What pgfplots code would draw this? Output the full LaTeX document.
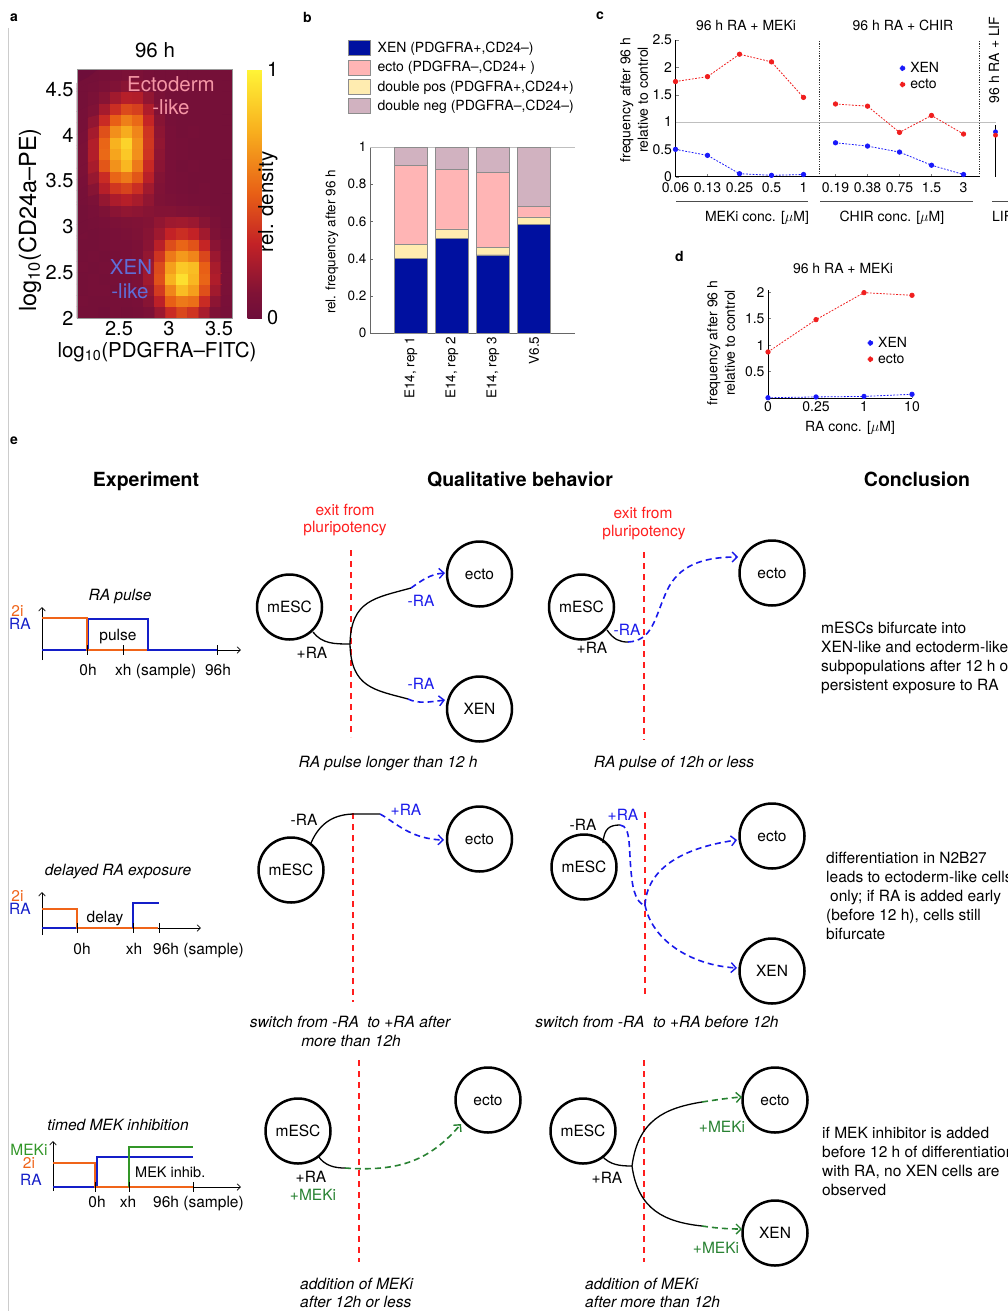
\documentclass[border=0pt]{standalone}
\usepackage{fontspec}
\setmainfont{TeX Gyre Heros}
\usepackage{pgfplots}
\pgfplotsset{compat=1.18}
\usepackage{pgfplotstable}
\usetikzlibrary{arrows.meta}
\newcommand\fs[2]{\fontsize{#1}{#2}\selectfont}
\pgfplotsset{/pgf/number format/assume math mode=true}

\definecolor{xenbar}{RGB}{0,16,160}
\definecolor{ectobar}{RGB}{255,181,181}
\definecolor{dpbar}{RGB}{255,236,176}
\definecolor{dnbar}{RGB}{209,178,192}
\definecolor{xenpt}{RGB}{25,25,250}
\definecolor{ectopt}{RGB}{240,30,30}
\definecolor{exitred}{RGB}{255,30,30}
\definecolor{rablue}{RGB}{25,25,235}
\definecolor{tlorange}{RGB}{240,100,25}
\definecolor{tlblue}{RGB}{20,30,200}
\definecolor{tlgreen}{RGB}{50,150,40}
\definecolor{mekgreen}{RGB}{40,130,50}
\definecolor{ectotxt}{RGB}{245,150,165}
\definecolor{xentxt}{RGB}{95,110,215}
\definecolor{heatbg}{RGB}{110,14,58}

% panel a: density grid, 14 columns (x) per row, rows from bottom (y=2) to top
\pgfplotstableread[row sep=\\]{
c\\
0.04\\0.04\\0.03\\0.05\\0.04\\0.05\\0.08\\0.18\\0.33\\0.42\\0.36\\0.22\\0.09\\0.05\\
0.05\\0.04\\0.04\\0.05\\0.05\\0.06\\0.12\\0.28\\0.50\\0.58\\0.55\\0.33\\0.14\\0.06\\
0.04\\0.05\\0.05\\0.04\\0.05\\0.07\\0.16\\0.38\\0.62\\0.80\\0.70\\0.45\\0.20\\0.07\\
0.04\\0.05\\0.04\\0.05\\0.06\\0.08\\0.20\\0.45\\0.76\\0.92\\0.78\\0.52\\0.24\\0.08\\
0.05\\0.04\\0.05\\0.05\\0.06\\0.08\\0.19\\0.43\\0.70\\0.84\\0.80\\0.50\\0.22\\0.08\\
0.04\\0.05\\0.04\\0.05\\0.06\\0.08\\0.16\\0.36\\0.58\\0.68\\0.62\\0.42\\0.18\\0.07\\
0.04\\0.04\\0.05\\0.06\\0.06\\0.08\\0.13\\0.27\\0.44\\0.52\\0.46\\0.31\\0.13\\0.06\\
0.05\\0.04\\0.05\\0.06\\0.07\\0.09\\0.12\\0.19\\0.30\\0.34\\0.30\\0.20\\0.09\\0.05\\
0.04\\0.05\\0.06\\0.08\\0.09\\0.10\\0.11\\0.15\\0.19\\0.20\\0.18\\0.12\\0.07\\0.04\\
0.04\\0.06\\0.09\\0.13\\0.15\\0.14\\0.12\\0.11\\0.11\\0.10\\0.09\\0.07\\0.05\\0.04\\
0.05\\0.08\\0.16\\0.23\\0.26\\0.22\\0.15\\0.09\\0.07\\0.06\\0.05\\0.05\\0.04\\0.04\\
0.05\\0.12\\0.26\\0.37\\0.41\\0.34\\0.20\\0.10\\0.06\\0.05\\0.04\\0.05\\0.04\\0.04\\
0.06\\0.17\\0.33\\0.52\\0.58\\0.47\\0.27\\0.11\\0.06\\0.05\\0.04\\0.04\\0.04\\0.04\\
0.07\\0.22\\0.47\\0.66\\0.78\\0.58\\0.32\\0.13\\0.06\\0.04\\0.05\\0.04\\0.04\\0.04\\
0.07\\0.25\\0.53\\0.72\\0.84\\0.65\\0.36\\0.14\\0.06\\0.05\\0.04\\0.04\\0.04\\0.04\\
0.07\\0.25\\0.52\\0.76\\0.88\\0.66\\0.37\\0.15\\0.06\\0.05\\0.04\\0.04\\0.04\\0.04\\
0.06\\0.21\\0.45\\0.65\\0.74\\0.62\\0.36\\0.14\\0.06\\0.04\\0.05\\0.04\\0.04\\0.04\\
0.05\\0.15\\0.33\\0.50\\0.60\\0.53\\0.31\\0.12\\0.05\\0.04\\0.04\\0.04\\0.04\\0.04\\
0.05\\0.10\\0.21\\0.34\\0.43\\0.40\\0.24\\0.10\\0.05\\0.04\\0.04\\0.04\\0.04\\0.04\\
0.04\\0.07\\0.12\\0.20\\0.26\\0.25\\0.15\\0.07\\0.04\\0.04\\0.04\\0.04\\0.04\\0.04\\
0.04\\0.05\\0.07\\0.10\\0.13\\0.13\\0.08\\0.05\\0.04\\0.04\\0.04\\0.04\\0.04\\0.04\\
0.04\\0.04\\0.05\\0.06\\0.07\\0.07\\0.05\\0.04\\0.04\\0.04\\0.04\\0.04\\0.04\\0.04\\
}\heat

\pgfplotstableread{
x xen dp ecto dn
0 0.40 0.075 0.425 0.10
1 0.51 0.05 0.32 0.12
2 0.42 0.04 0.405 0.135
3 0.585 0.04 0.055 0.32
}\fracs

\pgfplotstableread{
x xen ecto
0 0.50 1.74
1 0.39 1.83
2 0.055 2.24
3 0.025 2.10
4 0.04 1.45
}\cmek
\pgfplotstableread{
x xen ecto
5 0.62 1.33
6 0.56 1.29
7 0.45 0.81
8 0.21 1.12
9 0.04 0.78
}\cchir
\pgfplotstableread{
x xen ecto
10 0.82 0.76
}\clif
\pgfplotstableread{
x xen ecto
0 0.005 0.87
1 0.02 1.48
2 0.03 1.99
3 0.07 1.94
}\dra

\begin{document}
\begin{tikzpicture}
\useasboundingbox (0,0) rectangle (1007pt,-1311pt);
\fill[white] (0,0) rectangle (1007pt,-1311pt);

% ---------------- panel a
\begin{axis}[at={(77pt,-318pt)}, anchor=south west, scale only axis,
  width=155pt, height=249pt,
  xmin=2.08, xmax=3.63, ymin=2, ymax=4.72, enlargelimits=false,
  xtick={2.5,3,3.5}, ytick={2,2.5,3,3.5,4,4.5}, major tick length=0pt,
  ticklabel style={font=\fs{20}{24}},
  axis background/.style={fill=heatbg},
  axis line style={draw=black!40, line width=0.4pt},
  colormap={heat}{rgb255(0cm)=(110,14,58) rgb255(1cm)=(128,18,54) rgb255(3cm)=(195,34,38) rgb255(5cm)=(232,95,22) rgb255(7.5cm)=(248,175,30) rgb255(10cm)=(255,245,55)},
  point meta min=0, point meta max=1,
  colorbar,
  colorbar style={at={(parent axis.north east)}, anchor=north west, xshift=7pt,
    width=16pt, ytick={0,1}, major tick length=0pt,
    yticklabel style={font=\fs{20}{24}}, axis line style={draw=none}},
  axis on top]
\addplot[matrix plot*, mesh/cols=14, point meta=explicit]
  table[x index=0, y index=0, meta index=0,
        x expr={2.08+0.110714*(mod(\coordindex,14)+0.5)},
        y expr={2+0.123636*(floor(\coordindex/14)+0.5)}] {\heat};
\end{axis}

% ---------------- panel b
\begin{axis}[at={(370pt,-333pt)}, anchor=south west, scale only axis,
  width=205pt, height=186pt,
  xmin=-1, xmax=4, ymin=0, ymax=1, ybar stacked, bar width=33pt,
  axis x line*=bottom, axis y line*=left,
  axis line style={-, line width=0.5pt, draw=black!60},
  xtick={0,1,2,3}, xticklabels={{E14, rep 1},{E14, rep 2},{E14, rep 3},{V6.5}},
  x tick label style={rotate=90, anchor=east, font=\fs{13.5}{16}},
  xtick style={draw=none},
  ytick={0,0.2,0.4,0.6,0.8,1}, y tick label style={font=\fs{13.5}{16}},
  tick align=inside, major tick length=3pt, ytick style={draw=black!60},
  legend entries={{XEN (PDGFRA+,CD24--)},{ecto (PDGFRA--,CD24+ )},{double pos (PDGFRA+,CD24+)},{double neg (PDGFRA--,CD24--)}},
  legend cell align=left,
  legend style={at={(-0.107,1.575)}, anchor=north west, draw=none, fill=none,
    font=\fs{14}{17}, inner sep=0pt, row sep=4pt,
    nodes={inner sep=1pt, anchor=west},
    /tikz/every odd column/.append style={column sep=6pt}},
  legend image code/.code={\draw[#1, draw=black!45, line width=0.4pt] (0pt,-7.5pt) rectangle (22pt,7.5pt);}]
\addlegendimage{fill=xenbar}
\addlegendimage{fill=ectobar}
\addlegendimage{fill=dpbar}
\addlegendimage{fill=dnbar}
\addplot[fill=xenbar, draw=black!45, line width=0.4pt] table[x=x,y=xen]{\fracs};
\addplot[fill=dpbar, draw=black!45, line width=0.4pt] table[x=x,y=dp]{\fracs};
\addplot[fill=ectobar, draw=black!45, line width=0.4pt] table[x=x,y=ecto]{\fracs};
\addplot[fill=dnbar, draw=black!45, line width=0.4pt] table[x=x,y=dn]{\fracs};
\draw[black!25, line width=0.6pt] (axis cs:-1,1) -- (axis cs:4,1);
\end{axis}

% ---------------- panel c
\begin{axis}[at={(675.5pt,-176.7pt)}, anchor=south west, scale only axis,
  width=320pt, height=136.7pt,
  xmin=0, xmax=10, ymin=0, ymax=2.5, clip=false,
  axis x line*=bottom, axis y line*=left, axis line style={-},
  x axis line style={draw=none},
  xtick={0,1,2,3,4,5,6,7,8,9},
  xticklabels={0.06,0.13,0.25,0.5,1,0.19,0.38,0.75,1.5,3},
  x tick label style={yshift=-2pt},
  ytick={0,0.5,1,1.5,2,2.5},
  tick align=inside, major tick length=3pt,
  ticklabel style={font=\fs{14}{17}},
  legend style={at={(0.70,0.845)}, anchor=north west, draw=none, fill=none,
    font=\fs{14}{17}, inner sep=0pt, row sep=3pt,
    nodes={inner sep=1pt, anchor=west},
    /tikz/every odd column/.append style={column sep=4pt}},
  legend image code/.code={\fill[#1] (2.4pt,0pt) circle (2.4pt);}]
\draw[black!25, line width=0.6pt] (axis cs:0,1) -- (axis cs:10,1);
\draw[black!80, dash pattern=on 1.2pt off 1.2pt, line width=0.8pt] (axis cs:4.5,0) -- (axis cs:4.5,2.5);
\draw[black!80, dash pattern=on 1.2pt off 1.2pt, line width=0.8pt] (axis cs:9.5,0) -- (axis cs:9.5,2.5);
\draw[black, line width=0.6pt] (axis cs:0,0) -- (axis cs:9.5,0);
\draw[black, line width=0.6pt] (axis cs:10,0) -- (axis cs:10,0.95);
\addplot[xenpt, mark=*, mark size=2.2pt, line width=0.8pt, dash pattern=on 1.8pt off 1.5pt, mark options={solid}] table[x=x,y=xen]{\cmek};
\addlegendentry{XEN}
\addplot[ectopt, mark=*, mark size=2.2pt, line width=0.8pt, dash pattern=on 1.8pt off 1.5pt, mark options={solid}] table[x=x,y=ecto]{\cmek};
\addlegendentry{ecto}
\addplot[forget plot, xenpt, mark=*, mark size=2.2pt, line width=0.8pt, dash pattern=on 1.8pt off 1.5pt, mark options={solid}] table[x=x,y=xen]{\cchir};
\addplot[forget plot, ectopt, mark=*, mark size=2.2pt, line width=0.8pt, dash pattern=on 1.8pt off 1.5pt, mark options={solid}] table[x=x,y=ecto]{\cchir};
\addplot[forget plot, only marks, xenpt, mark=*, mark size=2.2pt] table[x=x,y=xen]{\clif};
\addplot[forget plot, only marks, ectopt, mark=*, mark size=2.2pt] table[x=x,y=ecto]{\clif};
\end{axis}

% ---------------- panel d
\begin{axis}[at={(768pt,-398pt)}, anchor=south west, scale only axis,
  width=144pt, height=108pt,
  xmin=0, xmax=3, ymin=0, ymax=2.04, clip=false,
  axis x line*=bottom, axis y line*=left, axis line style={-, line width=0.6pt},
  xtick={0,1,2,3}, xticklabels={0,0.25,1,10},
  ytick={0.5,1,1.5,2},
  tick align=inside, major tick length=3pt,
  ticklabel style={font=\fs{14}{17}},
  legend style={at={(0.69,0.575)}, anchor=north west, draw=none, fill=none,
    font=\fs{14}{17}, inner sep=0pt, row sep=3pt,
    nodes={inner sep=1pt, anchor=west},
    /tikz/every odd column/.append style={column sep=4pt}},
  legend image code/.code={\fill[#1] (2.4pt,0pt) circle (2.4pt);}]
\addplot[xenpt, mark=*, mark size=2.2pt, line width=0.8pt, dash pattern=on 1.8pt off 1.5pt, mark options={solid}] table[x=x,y=xen]{\dra};
\addlegendentry{XEN}
\addplot[ectopt, mark=*, mark size=2.2pt, line width=0.8pt, dash pattern=on 1.8pt off 1.5pt, mark options={solid}] table[x=x,y=ecto]{\dra};
\addlegendentry{ecto}
\end{axis}

% ---------------- texts and diagram
\begin{scope}[x=1pt, y=-1pt, every node/.style={inner sep=0pt},
  t/.style={font=\fs{15.5}{19}}, ti/.style={font=\itshape\fs{15.5}{19}},
  circ/.style={line width=2.5pt},
  blk/.style={line width=1.3pt},
  bdash/.style={rablue, line width=1.6pt, dash pattern=on 6pt off 4pt, -{Straight Barb[length=5pt,width=10pt,line width=1.4pt]}},
  gdash/.style={mekgreen, line width=1.6pt, dash pattern=on 6pt off 4pt, -{Straight Barb[length=5pt,width=10pt,line width=1.4pt]}},
  redv/.style={exitred, line width=1.6pt, dash pattern=on 6pt off 5pt},
  ax/.style={line width=0.7pt, -{Straight Barb[length=3.5pt,width=6.5pt]}},
  tl/.style={line width=1.7pt}]

\draw[black!20, line width=0.8pt] (8.5,28) -- (8.5,1311);

% panel letters
\node[anchor=base west, font=\bfseries\fs{14}{17}] at (10,22) {a};
\node[anchor=base west, font=\bfseries\fs{14}{17}] at (303,23) {b};
\node[anchor=base west, font=\bfseries\fs{14}{17}] at (596,20) {c};
\node[anchor=base west, font=\bfseries\fs{14}{17}] at (675,261) {d};
\node[anchor=base west, font=\bfseries\fs{14}{17}] at (10,444) {e};

% panel a labels
\node[font=\fs{20.5}{24}, anchor=base] at (155,58) {96 h};
\node[font=\fs{23.5}{27}, rotate=90] at (30,220) {log\textsubscript{10}(CD24a--PE)};
\node[font=\fs{20.5}{24}] at (157,352) {log\textsubscript{10}(PDGFRA--FITC)};
\node[font=\fs{20.5}{24}, rotate=90] at (268,202) {rel. density};
\node[font=\fs{20.5}{24}, anchor=base, text=ectotxt] at (171,92) {Ectoderm};
\node[font=\fs{20.5}{24}, anchor=base, text=ectotxt] at (171,115) {-like};
\node[font=\fs{20.5}{24}, anchor=base, text=xentxt] at (131,274) {XEN};
\node[font=\fs{20.5}{24}, anchor=base, text=xentxt] at (130,298) {-like};

% panel b label
\node[font=\fs{13.5}{16}, rotate=90] at (332,242) {rel. frequency after 96 h};

% panel c labels
\node[font=\fs{14}{17}, anchor=base] at (746,31) {96 h RA + MEKi};
\node[font=\fs{14}{17}, anchor=base] at (903,31) {96 h RA + CHIR};
\node[font=\fs{14}{17}, rotate=90] at (994,60) {96 h RA + LIF};
\node[font=\fs{14}{17.5}, rotate=90, align=center] at (634,100) {frequency after 96 h\\relative to control};
\draw[black!70, line width=0.6pt] (676,201) -- (808,201);
\draw[black!70, line width=0.6pt] (820,201) -- (973,201);
\draw[black!70, line width=0.6pt] (992,201) -- (1010,201);
\node[font=\fs{14}{17}, anchor=base] at (757,221) {MEKi conc. [$\mu$M]};
\node[font=\fs{14}{17}, anchor=base] at (892,221) {CHIR conc. [$\mu$M]};
\node[font=\fs{14}{17}, anchor=base west] at (992,221) {LIF};

% panel d labels
\node[font=\fs{14}{17}, anchor=base] at (843,273) {96 h RA + MEKi};
\node[font=\fs{14}{17.5}, rotate=90, align=center] at (721,343) {frequency after 96 h\\relative to control};
\node[font=\fs{14}{17}, anchor=base] at (850,431) {RA conc. [$\mu$M]};

% panel e headers
\node[font=\bfseries\fs{19.5}{23}, anchor=base] at (146,486) {Experiment};
\node[font=\bfseries\fs{19.5}{23}, anchor=base] at (520,486) {Qualitative behavior};
\node[font=\bfseries\fs{19.5}{23}, anchor=base] at (917,486) {Conclusion};

% ===== row 1 timeline
\node[ti, anchor=base] at (120,600) {RA pulse};
\node[t, anchor=base, text=tlorange] at (17.5,616) {2i};
\node[t, anchor=base, text=tlblue] at (20,629) {RA};
\draw[ax] (42,660) -- (42,607);
\draw[ax] (42,650) -- (241,650);
\draw[tlblue, tl] (42,650) -- (88,650) -- (88,619) -- (148,619) -- (148,650) -- (217,650);
\draw[tlorange, tl] (42,618) -- (87,618) -- (87,650) -- (147,650);
\foreach \xx in {87,123,217} \draw[line width=0.7pt] (\xx,645) -- (\xx,655);
\node[t, anchor=base] at (118,640) {pulse};
\node[t, anchor=base] at (88,675) {0h};
\node[t, anchor=base west] at (115,675) {xh (sample)};
\node[t, anchor=base] at (218,675) {96h};

% ===== row 1 diagram 1
\node[t, anchor=base, text=exitred] at (345,515) {exit from};
\node[t, anchor=base, text=exitred] at (345,532) {pluripotency};
\draw[redv] (351,550) -- (351,737);
\draw[circ] (289.5,607) circle[radius=32.5pt];
\draw[circ] (479.5,574) circle[radius=32.5pt];
\draw[circ] (479.5,709) circle[radius=32.5pt];
\node[t] at (289.5,607) {mESC};
\node[t] at (479.5,574) {ecto};
\node[t] at (479.5,709) {XEN};
\draw[blk] (313,632) .. controls (322,644) and (335,644) .. (350,644);
\draw[blk] (350,644) .. controls (351,600) and (375,598) .. (411,588);
\draw[blk] (350,644) .. controls (351,688) and (375,690) .. (408,699);
\draw[bdash] (411,588) .. controls (421,581) and (430,574) .. (445,573);
\draw[bdash] (408,699) .. controls (418,704) and (430,702) .. (445,700);
\node[t, anchor=base] at (312,658) {+RA};
\node[t, anchor=base, text=rablue] at (421,606) {-RA};
\node[t, anchor=base, text=rablue] at (421,689) {-RA};
\node[ti, anchor=base] at (388,767) {RA pulse longer than 12 h};

% ===== row 1 diagram 2
\node[t, anchor=base, text=exitred] at (643,518) {exit from};
\node[t, anchor=base, text=exitred] at (644,536) {pluripotency};
\draw[redv] (644,552) -- (644,740);
\draw[circ] (581.5,607) circle[radius=32.5pt];
\draw[circ] (772,573) circle[radius=32.5pt];
\node[t] at (581.5,607) {mESC};
\node[t] at (772,573) {ecto};
\draw[blk] (607,630) .. controls (614,640) and (620,642) .. (628,642);
\draw[bdash] (628,642) .. controls (652,641) and (655,618) .. (665,595) .. controls (675,570) and (695,557) .. (738,557);
\node[t, anchor=base, text=rablue] at (627,635) {-RA};
\node[t, anchor=base] at (592,653) {+RA};
\node[ti, anchor=base] at (674,767) {RA pulse of 12h or less};

% ===== row 1 conclusion
\node[t, anchor=base west] at (821,633) {mESCs bifurcate into};
\node[t, anchor=base west] at (821,652) {XEN-like and ectoderm-like cells};
\node[t, anchor=base west] at (821,671) {subpopulations after 12 h of};
\node[t, anchor=base west] at (821,690) {persistent exposure to RA};

% ===== row 2 timeline
\node[ti, anchor=base] at (118,875) {delayed RA exposure};
\node[t, anchor=base, text=tlorange] at (17.5,901) {2i};
\node[t, anchor=base, text=tlblue] at (20,914) {RA};
\draw[ax] (42,935) -- (42,892);
\draw[ax] (42,928) -- (201,928);
\draw[tlblue, tl] (42,928) -- (77,928);
\draw[tlorange, tl] (42,909) -- (77,909) -- (77,928) -- (158,928);
\draw[tlblue, tl] (133,928) -- (133,903) -- (159,903);
\foreach \xx in {77,133,159} \draw[line width=0.7pt] (\xx,923) -- (\xx,933);
\node[t, anchor=base] at (105,922) {delay};
\node[t, anchor=base] at (82,954) {0h};
\node[t, anchor=base] at (134,954) {xh};
\node[t, anchor=base west] at (153,954) {96h (sample)};

% ===== row 2 diagram 3
\draw[redv] (353,813) -- (353,1002);
\draw[circ] (291,870) circle[radius=32.5pt];
\draw[circ] (479.5,839) circle[radius=32.5pt];
\node[t] at (291,870) {mESC};
\node[t] at (479.5,839) {ecto};
\draw[blk] (311,843) .. controls (320,822) and (335,814) .. (355,814) -- (380,814);
\draw[bdash] (380,814) .. controls (395,822) and (410,839) .. (444,840);
\node[t, anchor=base] at (304,825) {-RA};
\node[t, anchor=base, text=rablue] at (406,815) {+RA};
\node[ti, anchor=base] at (350,1027) {switch from -RA\ \ to +RA after};
\node[ti, anchor=base] at (351,1046) {more than 12h};

% ===== row 2 diagram 4
\draw[redv] (645,812) -- (645,998);
\draw[circ] (584,867) circle[radius=32.5pt];
\draw[circ] (772,836) circle[radius=32.5pt];
\draw[circ] (772,971) circle[radius=32.5pt];
\node[t] at (584,867) {mESC};
\node[t] at (772,836) {ecto};
\node[t] at (772,971) {XEN};
\draw[blk] (603,843) .. controls (604,828) and (610,825) .. (620,825);
\draw[rablue, line width=1.6pt, dash pattern=on 6pt off 4pt] (620,825) .. controls (632,826) and (628,850) .. (632,880) .. controls (634,897) and (640,905) .. (645,905);
\draw[bdash] (645,905) .. controls (647,870) and (680,848) .. (737,840);
\draw[bdash] (645,905) .. controls (652,940) and (690,965) .. (737,968);
\node[t, anchor=base] at (583,830) {-RA};
\node[t, anchor=base, text=rablue] at (623,820) {+RA};
\node[ti, anchor=base] at (657,1027) {switch from -RA\ \ to +RA before 12h};

% ===== row 2 conclusion
\node[t, anchor=base west] at (826,863) {differentiation in N2B27};
\node[t, anchor=base west] at (826,882) {leads to ectoderm-like cells};
\node[t, anchor=base west] at (830,901) {only; if RA is added early};
\node[t, anchor=base west] at (826,920) {(before 12 h), cells still};
\node[t, anchor=base west] at (826,939) {bifurcate};

% ===== row 3 timeline
\node[ti, anchor=base] at (118,1130) {timed MEK inhibition};
\node[t, anchor=base, text=tlgreen] at (29,1155.5) {MEKi};
\node[t, anchor=base, text=tlorange] at (29,1168) {2i};
\node[t, anchor=base, text=tlblue] at (31,1185) {RA};
\draw[ax] (53,1191) -- (53,1141);
\draw[ax] (53,1187) -- (241,1187);
\draw[tlblue, tl] (53,1187) -- (97,1187) -- (97,1157) -- (193,1157);
\draw[tlorange, tl] (53,1163) -- (95,1163) -- (95,1187) -- (193,1187);
\draw[tlgreen, tl] (129,1187) -- (129,1147) -- (193,1147);
\foreach \xx in {95,129,193} \draw[line width=0.7pt] (\xx,1182) -- (\xx,1192);
\node[font=\fs{14.5}{18}, anchor=base west] at (135,1177) {MEK inhib.};
\node[t, anchor=base] at (97,1207) {0h};
\node[t, anchor=base] at (128,1207) {xh};
\node[t, anchor=base west] at (153,1207) {96h (sample)};

% ===== row 3 diagram 5
\draw[redv] (359,1060) -- (359,1262);
\draw[circ] (298,1131) circle[radius=32.5pt];
\draw[circ] (488,1100) circle[radius=32.5pt];
\node[t] at (298,1131) {mESC};
\node[t] at (488,1100) {ecto};
\draw[blk] (318,1156) .. controls (325,1166) and (335,1168) .. (345,1168);
\draw[gdash] (345,1168) .. controls (400,1172) and (430,1160) .. (461,1124);
\node[t, anchor=base] at (311,1182) {+RA};
\node[t, anchor=base, text=mekgreen] at (313,1200) {+MEKi};
\node[ti, anchor=base west] at (300,1289) {addition of MEKi};
\node[ti, anchor=base west] at (300,1307) {after 12h or less};

% ===== row 3 diagram 6
\draw[redv] (644,1060) -- (644,1262);
\draw[circ] (583,1131) circle[radius=32.5pt];
\draw[circ] (775,1100) circle[radius=32.5pt];
\draw[circ] (775,1233) circle[radius=32.5pt];
\node[t] at (583,1131) {mESC};
\node[t] at (775,1100) {ecto};
\node[t] at (775,1233) {XEN};
\draw[blk] (602,1156) .. controls (610,1165) and (620,1166) .. (632,1166);
\draw[blk] (632,1166) .. controls (638,1120) and (665,1108) .. (702,1102);
\draw[blk] (632,1166) .. controls (638,1210) and (665,1222) .. (702,1226);
\draw[gdash] (702,1102) .. controls (715,1100) and (728,1098) .. (742,1097);
\draw[gdash] (702,1226) .. controls (715,1228) and (728,1229) .. (742,1229);
\node[t, anchor=base] at (607,1183) {+RA};
\node[t, anchor=base, text=mekgreen] at (722,1132) {+MEKi};
\node[t, anchor=base, text=mekgreen] at (716,1253) {+MEKi};
\node[ti, anchor=base west] at (585,1289) {addition of MEKi};
\node[ti, anchor=base west] at (585,1307) {after more than 12h};

% ===== row 3 conclusion
\node[t, anchor=base west] at (822,1138) {if MEK inhibitor is added};
\node[t, anchor=base west] at (822,1157) {before 12 h of differentiation};
\node[t, anchor=base west] at (822,1176) {with RA, no XEN cells are};
\node[t, anchor=base west] at (822,1195) {observed};
\end{scope}
\end{tikzpicture}
\end{document}
